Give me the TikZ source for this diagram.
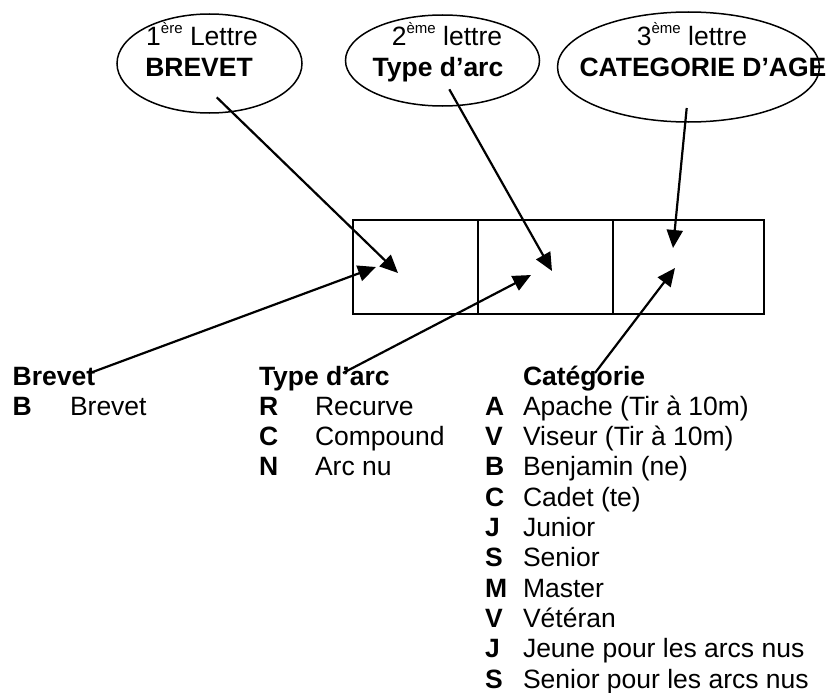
\documentclass[tikz,border=0pt]{standalone}
\usepackage{fontspec}
\setmainfont{Liberation Sans}
\usetikzlibrary{arrows.meta,shapes.geometric}
\newcommand{\supx}[1]{\raisebox{13pt}{\fontsize{15}{15}\selectfont #1}}
\begin{document}
\begin{tikzpicture}[x=1pt,y=-1pt,
  every node/.style={font=\fontsize{26.5}{30}\selectfont, inner sep=0pt, outer sep=0pt},
  ell/.style={draw, ellipse, line width=1.5pt},
  cell/.style={draw, rectangle, line width=2.2pt, minimum height=94pt},
  txt/.style={anchor=base west},
  btxt/.style={anchor=base west, font=\fontsize{26.5}{30}\selectfont\bfseries},
  ctxt/.style={anchor=base},
  cbtxt/.style={anchor=base, font=\fontsize{26.5}{30}\selectfont\bfseries},
  arr/.style={line width=2.2pt, -{Triangle[length=18pt,width=16pt]}}
]
\useasboundingbox (0,0) rectangle (830,693);

% ellipses
\node[ell, minimum width=185pt, minimum height=99pt] (e1) at (209.5,63.5) {};
\node[ell, minimum width=194pt, minimum height=91pt] (e2) at (442.5,60.5) {};
\node[ell, minimum width=262pt, minimum height=110pt] (e3) at (688.5,67) {};

\node[ctxt] (e1a) at (202,46) {1\supx{ère} Lettre};
\node[cbtxt] (e1b) at (199,77) {BREVET};
\node[ctxt] (e2a) at (447,46) {2\supx{ème} lettre};
\node[cbtxt] (e2b) at (438,77) {Type d’arc};
\node[ctxt] (e3a) at (692,46) {3\supx{ème} lettre};
\node[cbtxt] (e3b) at (703,77) {CATEGORIE D’AGE};

% boxes
\node[cell, minimum width=125pt] (c1) at (415.5,267) {};
\node[cell, minimum width=135pt] (c2) at (545.5,267) {};
\node[cell, minimum width=151pt] (c3) at (688.5,267) {};

% lists
\node[btxt] (hb) at (12.7,385) {Brevet};
\node[btxt] (hbB) at (12.7,415) {B};
\node[txt] (hbBt) at (70,415) {Brevet};

\node[btxt] (ht) at (259,385) {Type d’arc};
\node[btxt] (htR) at (259,415) {R};
\node[txt] (htRt) at (315,415) {Recurve};
\node[btxt] (htC) at (259,445.3) {C};
\node[txt] (htCt) at (315,445.3) {Compound};
\node[btxt] (htN) at (259,475.6) {N};
\node[txt] (htNt) at (315,475.6) {Arc nu};

\node[btxt] (hc) at (523,385) {Catégorie};
\foreach \l/\t [count=\i] in {A/Apache (Tir à 10m), V/Viseur (Tir à 10m), B/Benjamin (ne), C/Cadet (te), J/Junior, S/Senior, M/Master, V/Vétéran, J/Jeune pour les arcs nus, S/Senior pour les arcs nus}{
  \node[btxt] (hcl\i) at (485,{385+30.3*\i}) {\l};
  \node[txt] (hct\i) at (523,{385+30.3*\i}) {\t};
}

% arrow end points
\coordinate (a1s) at (216.7,97.3);
\coordinate (a1e) at (398,273);
\coordinate (a2s) at (449.3,89.3);
\coordinate (a2e) at (552,271);
\coordinate (a3s) at (686.7,108);
\coordinate (a3e) at (673,248);
\coordinate (a4s) at (90,373);
\coordinate (a4e) at (376,267);
\coordinate (a5s) at (343,373);
\coordinate (a5e) at (531,275);
\coordinate (a6s) at (595,373);
\coordinate (a6e) at (675,268);

\draw[arr] (a1s) -- (a1e);
\draw[arr] (a2s) -- (a2e);
\draw[arr] (a3s) -- (a3e);
\draw[arr] (a4s) -- (a4e);
\draw[arr] (a5s) -- (a5e);
\draw[arr] (a6s) -- (a6e);
\end{tikzpicture}
\end{document}
